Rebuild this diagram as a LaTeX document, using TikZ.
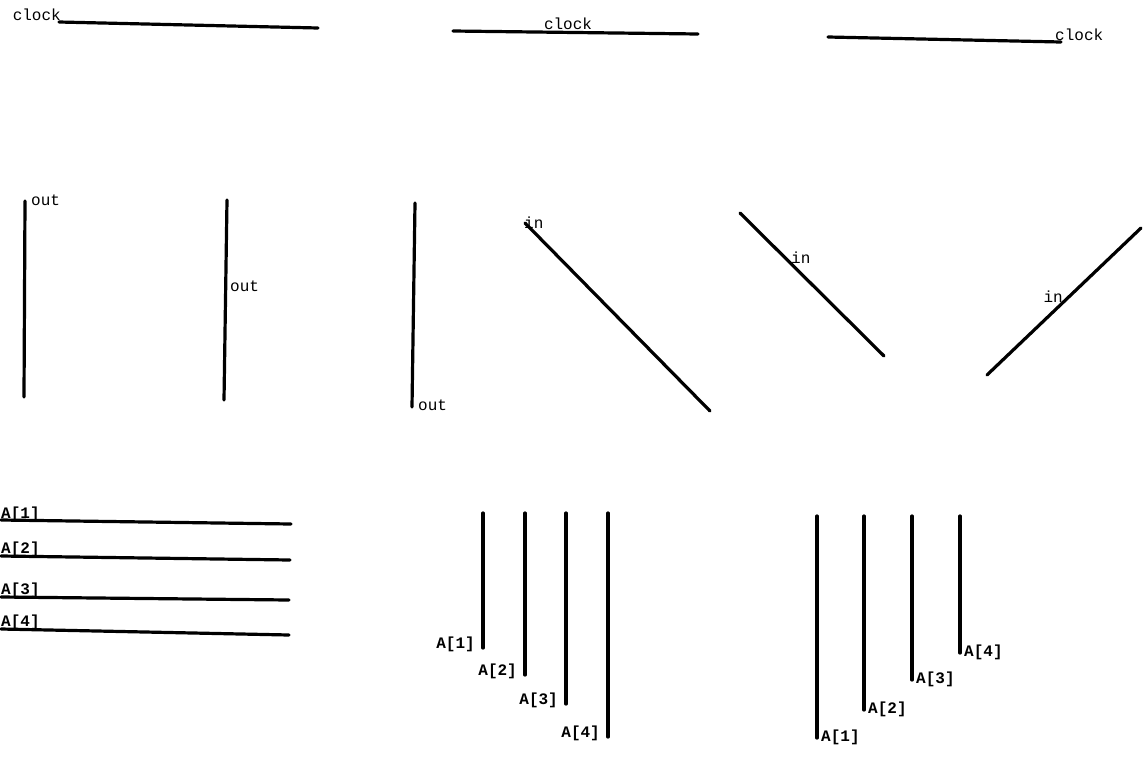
\documentclass[tikz,border=0pt]{standalone}
\usepackage{fontspec}
\setmonofont{Liberation Mono}
\usetikzlibrary{calc}
\begin{document}
\begin{tikzpicture}[x=1pt,y=-1pt,
  wire/.style={line width=3.2pt,line cap=round},
  lbl/.style={font=\ttfamily\fontsize{16}{18}\selectfont,inner sep=0pt},
  blbl/.style={font=\ttfamily\bfseries\fontsize{16}{18}\selectfont,inner sep=0pt}]
\useasboundingbox (0,0) rectangle (1143,758);
% Row 1: clocks
\coordinate (k1a) at (59,22); \coordinate (k1b) at (318,28);
\draw[wire] (k1a) -- (k1b);
\node[lbl,anchor=base east] (k1l) at (61,20) {clock};
\coordinate (k2a) at (453,31); \coordinate (k2b) at (698,34);
\draw[wire] (k2a) -- (k2b);
\node[lbl,anchor=base] (k2l) at (568,29) {clock};
\coordinate (k3a) at (828,37); \coordinate (k3b) at (1061,42);
\draw[wire] (k3a) -- (k3b);
\node[lbl,anchor=base west] (k3l) at (1055,40) {clock};
% Row 2: outs
\coordinate (o1a) at (25,201); \coordinate (o1b) at (24,397);
\draw[wire] (o1a) -- (o1b);
\node[lbl,anchor=base west] (o1l) at (31,205) {out};
\coordinate (o2a) at (227,200); \coordinate (o2b) at (224,400);
\draw[wire] (o2a) -- (o2b);
\node[lbl,anchor=base west] (o2l) at (230,291) {out};
\coordinate (o3a) at (415,203); \coordinate (o3b) at (412,407);
\draw[wire] (o3a) -- (o3b);
\node[lbl,anchor=base west] (o3l) at (418,410) {out};
% Row 2: ins
\coordinate (i1a) at (525,223); \coordinate (i1b) at (710,411);
\draw[wire] (i1a) -- (i1b);
\node[lbl,anchor=base west] (i1l) at (524,228) {in};
\coordinate (i2a) at (740,213); \coordinate (i2b) at (884,356);
\draw[wire] (i2a) -- (i2b);
\node[lbl,anchor=base west] (i2l) at (791,263) {in};
\coordinate (i3a) at (987,375); \coordinate (i3b) at (1141,228);
\draw[wire] (i3a) -- (i3b);
\node[lbl,anchor=base east] (i3l) at (1063,302) {in};
% Row 3 left: horizontal bus
\foreach \i/\ya/\yb/\yl/\xe in {1/520/524/518/291, 2/556/560/553/290, 3/597/600/594/289, 4/629/635/626/289}{
  \coordinate (h\i a) at (1,\ya); \coordinate (h\i b) at (\xe,\yb);
  \draw[wire] (h\i a) -- (h\i b);
  \node[blbl,anchor=base west] (h\i l) at (1,\yl) {A[\i]};
}
% Row 3 middle: vertical bus, labels left
\foreach \i/\x/\yb in {1/483/648, 2/525/675, 3/566/704, 4/608/737}{
  \coordinate (m\i a) at (\x,513); \coordinate (m\i b) at (\x,\yb);
  \draw[wire] (m\i a) -- (m\i b);
  \node[blbl,anchor=base east] (m\i l) at (\x-8,\yb) {A[\i]};
}
% Row 3 right: vertical bus, labels right
\foreach \i/\x/\yb in {1/817/738, 2/864/710, 3/912/680, 4/960/653}{
  \coordinate (r\i a) at (\x,516); \coordinate (r\i b) at (\x,\yb);
  \draw[wire] (r\i a) -- (r\i b);
  \node[blbl,anchor=base west] (r\i l) at (\x+4,\yb+3) {A[\i]};
}
\end{tikzpicture}
\end{document}
